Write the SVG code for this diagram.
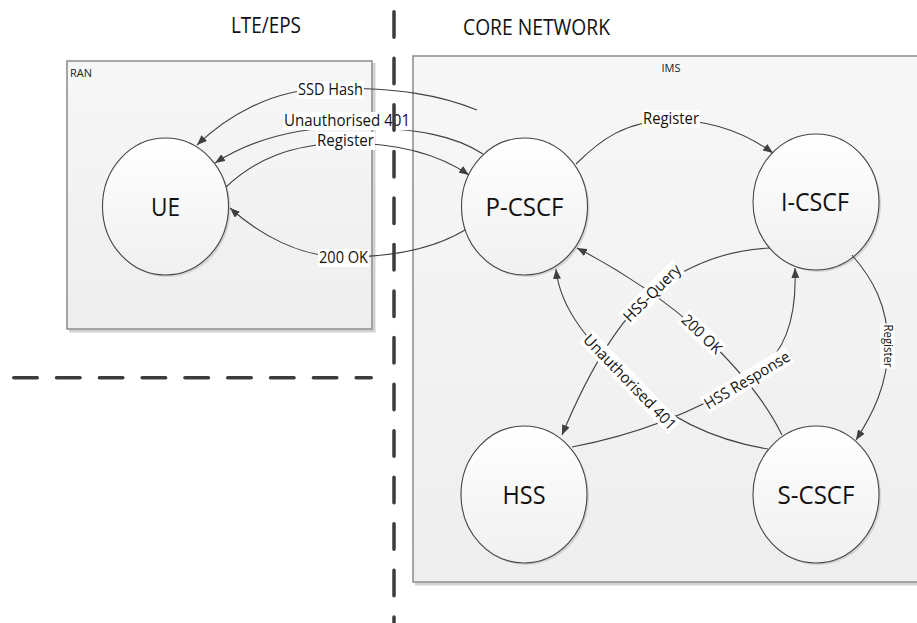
<svg xmlns="http://www.w3.org/2000/svg" width="917" height="623" viewBox="0 0 917 623">
<style>
  .title{font-family:"Open Sans","Liberation Sans",sans-serif;font-size:21px;fill:#111}
  .small{font-family:"Open Sans","Liberation Sans",sans-serif;font-size:10px;fill:#222}
  .node{font-family:"Open Sans","Liberation Sans",sans-serif;font-size:25px;fill:#111;text-anchor:middle}
  .lbl{font-family:"Open Sans","Liberation Sans",sans-serif;font-size:15.5px;fill:#111;text-anchor:middle}
  .lbl2{font-family:"Open Sans","Liberation Sans",sans-serif;font-size:12px;fill:#111;text-anchor:middle}
  .bg{fill:#ffffff}
  .conn{fill:none;stroke:#404040;stroke-width:1.1}
  .circ{fill:url(#cg);stroke:#454545;stroke-width:1.1}
  .csh{fill:#c8c8c8;opacity:0.7}
  .box{fill:url(#bg);stroke:#8a8a8a;stroke-width:1.5}
  .bsh{fill:none;stroke:#d2d2d2;stroke-width:3}
  .dash{fill:none;stroke:#3c3c3c;stroke-width:3.5;stroke-linecap:round}
</style>
<defs>
  <linearGradient id="cg" x1="0" y1="0" x2="0" y2="1">
    <stop offset="0" stop-color="#ffffff"/>
    <stop offset="1" stop-color="#f0f0f0"/>
  </linearGradient>
  <linearGradient id="bg" x1="0" y1="0" x2="0" y2="1">
    <stop offset="0" stop-color="#f7f7f7"/>
    <stop offset="1" stop-color="#eeeeee"/>
  </linearGradient>
  <marker id="arr" viewBox="0 0 10 8" refX="10" refY="4" markerWidth="10" markerHeight="8" markerUnits="userSpaceOnUse" orient="auto">
    <path d="M0,0 L10,4 L0,8 z" fill="#404040"/>
  </marker>
</defs>
<rect x="0" y="0" width="917" height="623" fill="#ffffff"/>

<!-- titles -->
<text class="title" x="266" y="33" text-anchor="middle" textLength="70" lengthAdjust="spacingAndGlyphs">LTE/EPS</text>
<text class="title" x="463" y="35" textLength="147" lengthAdjust="spacingAndGlyphs">CORE NETWORK</text>

<!-- boxes -->
<g id="ran">
  <path class="bsh" d="M374 63 V331 H69"/>
  <rect class="box" x="67" y="61" width="305" height="268"/>
  <text class="small" x="70" y="77" textLength="22" lengthAdjust="spacingAndGlyphs">RAN</text>
</g>
<g id="ims">
  <path class="bsh" d="M415 584 H917"/>
  <rect class="box" x="413" y="56" width="520" height="526"/>
  <text class="small" x="671" y="72" text-anchor="middle" textLength="19" lengthAdjust="spacingAndGlyphs">IMS</text>
</g>

<!-- nodes -->
<g id="UE">
  <ellipse class="csh" cx="167.5" cy="208.5" rx="63" ry="68.5"/>
  <ellipse class="circ" cx="165.5" cy="206.5" rx="63" ry="68.5"/>
  <text class="node" x="165.5" y="216" textLength="29" lengthAdjust="spacingAndGlyphs">UE</text>
</g>
<g id="P-CSCF">
  <ellipse class="csh" cx="526.5" cy="208.5" rx="63" ry="68.5"/>
  <ellipse class="circ" cx="524.5" cy="206.5" rx="63" ry="68.5"/>
  <text class="node" x="524.5" y="215.5" textLength="78" lengthAdjust="spacingAndGlyphs">P-CSCF</text>
</g>
<g id="I-CSCF">
  <ellipse class="csh" cx="818" cy="204" rx="63" ry="68"/>
  <ellipse class="circ" cx="816" cy="202" rx="63" ry="68"/>
  <text class="node" x="815" y="211" textLength="68" lengthAdjust="spacingAndGlyphs">I-CSCF</text>
</g>
<g id="HSS">
  <ellipse class="csh" cx="526" cy="496.5" rx="63" ry="68.5"/>
  <ellipse class="circ" cx="524" cy="494.5" rx="63" ry="68.5"/>
  <text class="node" x="524" y="504" textLength="43" lengthAdjust="spacingAndGlyphs">HSS</text>
</g>
<g id="S-CSCF">
  <ellipse class="csh" cx="818" cy="496.5" rx="63" ry="68.5"/>
  <ellipse class="circ" cx="816" cy="494.5" rx="63" ry="68.5"/>
  <text class="node" x="816" y="504" textLength="77" lengthAdjust="spacingAndGlyphs">S-CSCF</text>
</g>

<!-- connectors -->
<g id="connectors">
  <path class="conn" marker-end="url(#arr)" d="M477 110 C440 95,400 88,330 88 C270 89,225 118,197 145"/>
  <path class="conn" marker-end="url(#arr)" d="M483 154 C455 136,420 128,347 127 C285 128,243 145,215 163"/>
  <path class="conn" marker-end="url(#arr)" d="M226 187 C255 160,290 144,345 143 C400 143,440 155,469 175"/>
  <path class="conn" marker-end="url(#arr)" d="M465 230 C440 245,400 257,344 257 C300 257,260 235,230 208"/>
  <path class="conn" marker-end="url(#arr)" d="M576 164 C600 140,625 121,671 120 C715 120,748 135,773 153"/>
  <path class="conn" marker-end="url(#arr)" d="M852 255 C872 278,888 305,888 346 C888 385,872 415,856 440"/>
  <path class="conn" marker-end="url(#arr)" d="M770 248 C730 250,690 262,652 293 C615 323,585 380,562 435"/>
  <path class="conn" marker-end="url(#arr)" d="M782 435 C765 400,735 365,702 334 C670 303,620 270,577 248"/>
  <path class="conn" marker-end="url(#arr)" d="M768 449 C725 442,675 425,630 382 C590 343,560 310,556 269"/>
  <path class="conn" marker-end="url(#arr)" d="M572 447 C630 436,690 415,747 380 C785 357,797 320,795 268"/>

  <!-- labels -->
  <rect class="bg" x="297" y="81" width="67" height="18"/>
  <text class="lbl" x="330.5" y="95" textLength="65" lengthAdjust="spacingAndGlyphs">SSD Hash</text>
  <rect class="bg" x="283" y="112" width="128" height="18"/>
  <text class="lbl" x="347" y="126" textLength="126" lengthAdjust="spacingAndGlyphs">Unauthorised 401</text>
  <rect class="bg" x="316" y="132" width="59" height="18"/>
  <text class="lbl" x="345.5" y="146" textLength="57" lengthAdjust="spacingAndGlyphs">Register</text>
  <rect class="bg" x="318" y="249" width="51" height="18"/>
  <text class="lbl" x="343.5" y="263" textLength="49" lengthAdjust="spacingAndGlyphs">200 OK</text>
  <rect class="bg" x="642" y="110" width="58" height="18"/>
  <text class="lbl" x="671" y="124" textLength="56" lengthAdjust="spacingAndGlyphs">Register</text>

  <g transform="translate(888 346) rotate(90)">
    <rect class="bg" x="-22.5" y="-7" width="45" height="15"/>
    <text class="lbl2" x="0" y="4.5" textLength="43" lengthAdjust="spacingAndGlyphs">Register</text>
  </g>
  <g transform="translate(652 293) rotate(-45)">
    <rect class="bg" x="-38" y="-9" width="76" height="18"/>
    <text class="lbl" x="0" y="5.5" textLength="74" lengthAdjust="spacingAndGlyphs">HSS-Query</text>
  </g>
  <g transform="translate(702 334) rotate(44)">
    <rect class="bg" x="-25.5" y="-9" width="51" height="18"/>
    <text class="lbl" x="0" y="5.5" textLength="49" lengthAdjust="spacingAndGlyphs">200 OK</text>
  </g>
  <g transform="translate(630 382) rotate(46)">
    <rect class="bg" x="-64" y="-9" width="128" height="18"/>
    <text class="lbl" x="0" y="5.5" textLength="126" lengthAdjust="spacingAndGlyphs">Unauthorised 401</text>
  </g>
  <g transform="translate(747 380) rotate(-31)">
    <rect class="bg" x="-49.5" y="-9" width="99" height="18"/>
    <text class="lbl" x="0" y="5.5" textLength="97" lengthAdjust="spacingAndGlyphs">HSS Response</text>
  </g>
</g>

<!-- dashed separators (drawn on top) -->
<g id="separators">
  <line class="dash" x1="394" y1="11.75" x2="394" y2="623" stroke-dasharray="25.5 21.05"/>
  <line class="dash" x1="13.75" y1="377.7" x2="371.25" y2="377.7" stroke-dasharray="23.5 19.3"/>
</g>
</svg>
